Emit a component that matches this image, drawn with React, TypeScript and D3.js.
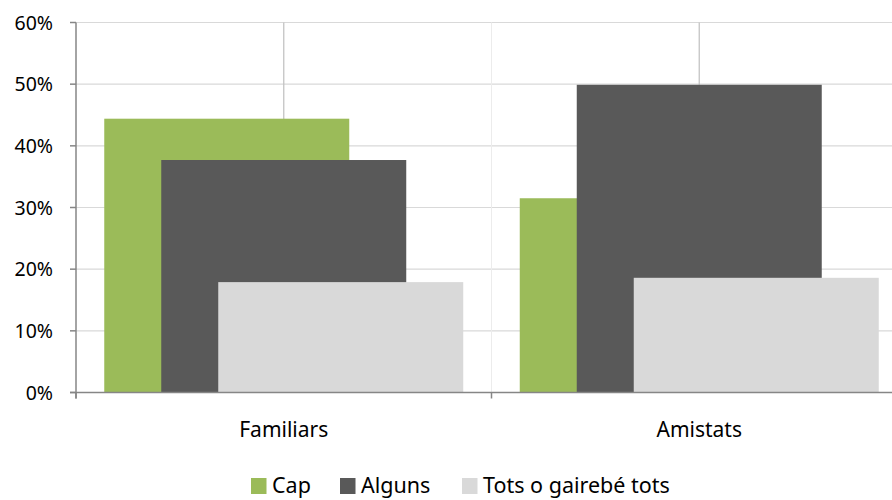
import React from 'react';
import * as d3 from 'd3';

const categories = ['Familiars', 'Amistats'];
const seriesNames = ['Cap', 'Alguns', 'Tots o gairebé tots'];
const cap = [0.444, 0.315];
const alguns = [0.377, 0.499];
const tots = [0.179, 0.186];
const yTicks = [0, 0.1, 0.2, 0.3, 0.4, 0.5, 0.6];
const colors = ['#9bbb59', '#595959', '#d9d9d9'];

const W = 892;
const H = 500;
const left = 76;
const right = 907;
const top = 22.5;
const bottom = 392.5;
const font = "'Noto Sans', 'Open Sans', sans-serif";

export default function App() {
  const seriesValues = [cap, alguns, tots];
  const x0 = d3.scaleBand<string>().domain(categories).range([left, right]).paddingInner(0.136).paddingOuter(0.068);
  const y = d3.scaleLinear().domain([0, 0.6]).range([bottom, top]);
  const band = x0.bandwidth();
  const barW = band * 245 / 359;
  const offset = (band - barW) / 2;
  const fmt = d3.format('.0%');

  // category boundaries
  const boundaries = categories.map((c, i) => left + x0.step() * i).concat([right]);

  return (
    <svg width={W} height={H} style={{ position: 'absolute', left: 0, top: 0 }}>
      <rect width={W} height={H} fill="#fff" />
      {/* horizontal gridlines */}
      {yTicks.slice(1).map(t => (
        <line key={t} x1={left} x2={right} y1={y(t)} y2={y(t)} stroke="#d9d9d9" strokeWidth={1.2} />
      ))}
      {boundaries.slice(1).map((b, i) => (
        <line key={'b' + i} x1={b} x2={b} y1={top} y2={bottom} stroke="#ececec" strokeWidth={1} />
      ))}
      {categories.map(c => {
        const cx = (x0(c) as number) + band / 2;
        return <line key={'c' + c} x1={cx} x2={cx} y1={top} y2={bottom} stroke="#c4c4c4" strokeWidth={1.3} />;
      })}
      {/* bars */}
      {seriesValues.map((vals, s) => (
        <g key={s}>
          {categories.map((c, i) => (
            <rect key={c} x={(x0(c) as number) + offset * s} width={barW} y={y(vals[i])} height={bottom - y(vals[i])} fill={colors[s]} />
          ))}
        </g>
      ))}
      {/* axes */}
      <line x1={left} x2={left} y1={top} y2={bottom + 6} stroke="#868686" strokeWidth={1.5} />
      <line x1={left - 6} x2={right} y1={bottom} y2={bottom} stroke="#868686" strokeWidth={1.5} />
      {yTicks.map(t => (
        <g key={'t' + t}>
          <line x1={left - 6} x2={left} y1={y(t)} y2={y(t)} stroke="#868686" strokeWidth={1.5} />
          <text x={53} y={y(t)} dy="0.36em" textAnchor="end" fontFamily={font} fontSize={19.5} fill="#000">{fmt(t)}</text>
        </g>
      ))}
      {boundaries.map((b, i) => (
        <line key={'bt' + i} x1={b} x2={b} y1={bottom} y2={bottom + 6} stroke="#868686" strokeWidth={1.5} />
      ))}
      {categories.map(c => (
        <text key={'l' + c} x={(x0(c) as number) + band / 2} y={437} textAnchor="middle" fontFamily={font} fontSize={21} fill="#000">{c}</text>
      ))}
      {/* legend */}
      {seriesNames.map((n, i) => {
        const lx = [251, 340, 462][i];
        return (
          <g key={n}>
            <rect x={lx} y={478} width={15.5} height={16} fill={colors[i]} />
            <text x={lx + 21} y={493} fontFamily={font} fontSize={21.5} fill="#000">{n}</text>
          </g>
        );
      })}
    </svg>
  );
}
